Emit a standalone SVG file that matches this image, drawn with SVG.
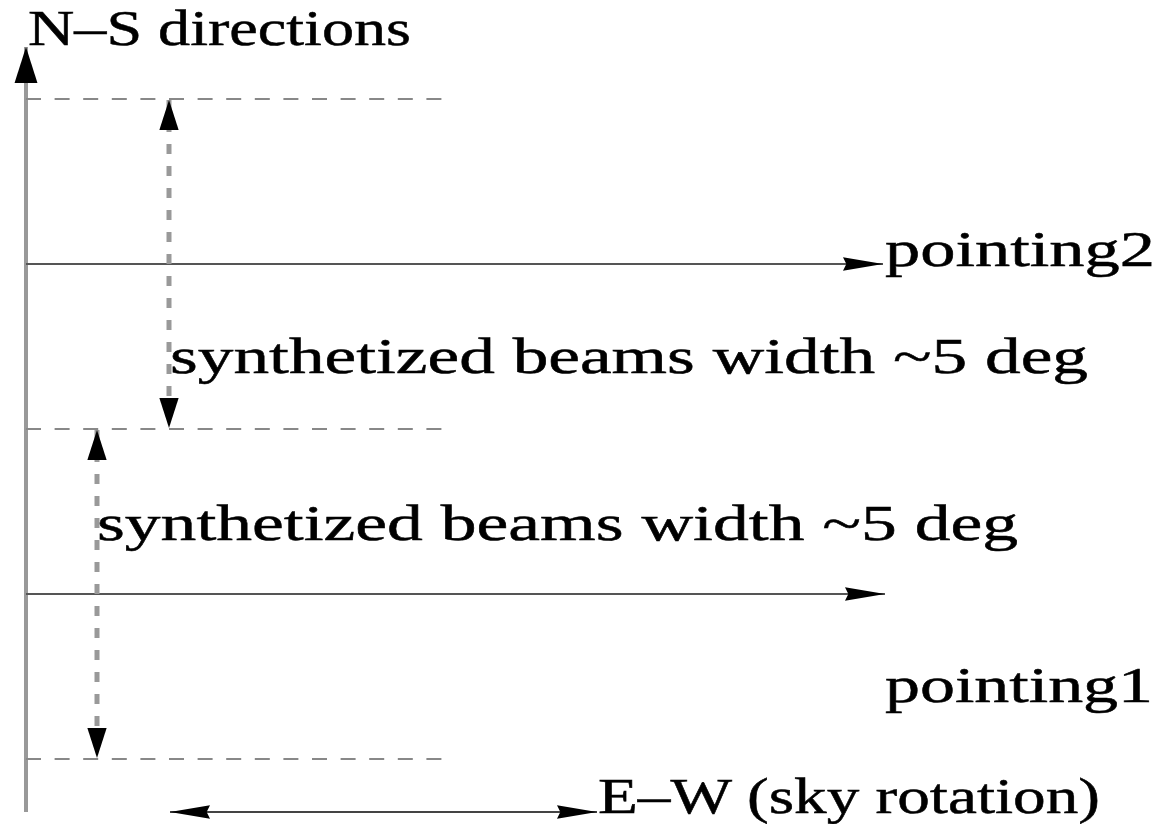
<svg xmlns="http://www.w3.org/2000/svg" width="1169" height="824" viewBox="0 0 1169 824">
<style>
.bg{fill:#fff}
.axis{stroke:#999;stroke-width:4;fill:none}
.solid{stroke:#555;stroke-width:2;fill:none}
.dashh{stroke:#888;stroke-width:2;stroke-dasharray:15 13.6;fill:none}
.dashv{stroke:#999;stroke-width:5;stroke-dasharray:10 12;fill:none}
.ew{stroke:#444;stroke-width:2;fill:none}
text{font-family:"Liberation Serif","Times New Roman",serif;font-size:51px;fill:#000;stroke:#000;stroke-width:0.5}
</style>
<defs>
<marker id="ah" markerUnits="userSpaceOnUse" markerWidth="40" markerHeight="16" viewBox="0 0 36 12" refX="36" refY="6" orient="auto-start-reverse"><path d="M0,0 L36,6 L0,12 L3,6 Z" fill="#000"/></marker>
<marker id="av" markerUnits="userSpaceOnUse" markerWidth="30" markerHeight="30" viewBox="0 0 28 18" refX="28" refY="9" orient="auto-start-reverse"><path d="M0,0 L28,9 L0,18 Z" fill="#000"/></marker>
<marker id="aa" markerUnits="userSpaceOnUse" markerWidth="36" markerHeight="30" viewBox="0 0 33 21" refX="33" refY="10.5" orient="auto"><path d="M0,0 L33,10.5 L0,21 Z" fill="#000"/></marker>
</defs>
<rect class="bg" x="0" y="0" width="1169" height="824"/>
<g id="connectors">
<line id="ns-axis" class="axis" x1="26" y1="812" x2="26" y2="47" marker-end="url(#aa)"/>
<line class="dashh" x1="26" y1="99" x2="442" y2="99"/>
<line class="dashh" x1="26" y1="429" x2="442" y2="429"/>
<line class="dashh" x1="26" y1="759" x2="442" y2="759"/>
<line id="p2-line" class="solid" x1="26" y1="264" x2="883" y2="264" marker-end="url(#ah)"/>
<line id="p1-line" class="solid" x1="26" y1="594" x2="885" y2="594" marker-end="url(#ah)"/>
<line id="beam2" class="dashv" x1="169" y1="100" x2="169" y2="428" marker-start="url(#av)" marker-end="url(#av)"/>
<line id="beam1" class="dashv" x1="97" y1="430" x2="97" y2="758" marker-start="url(#av)" marker-end="url(#av)"/>
<line id="ew-arrow" class="ew" x1="170" y1="812" x2="597" y2="812" marker-start="url(#ah)" marker-end="url(#ah)"/>
</g>
<g id="label-ns"><text x="28" y="45" textLength="383" lengthAdjust="spacingAndGlyphs">N–S directions</text></g>
<g id="label-pointing2"><text x="885" y="266" textLength="270" lengthAdjust="spacingAndGlyphs">pointing2</text></g>
<g id="label-beam2"><text x="170" y="373" textLength="918" lengthAdjust="spacingAndGlyphs">synthetized beams width ~5 deg</text></g>
<g id="label-beam1"><text x="97" y="540" textLength="921" lengthAdjust="spacingAndGlyphs">synthetized beams width ~5 deg</text></g>
<g id="label-pointing1"><text x="885" y="702" textLength="268" lengthAdjust="spacingAndGlyphs">pointing1</text></g>
<g id="label-ew"><text x="598" y="813" textLength="502" lengthAdjust="spacingAndGlyphs">E–W (sky rotation)</text></g>
</svg>
